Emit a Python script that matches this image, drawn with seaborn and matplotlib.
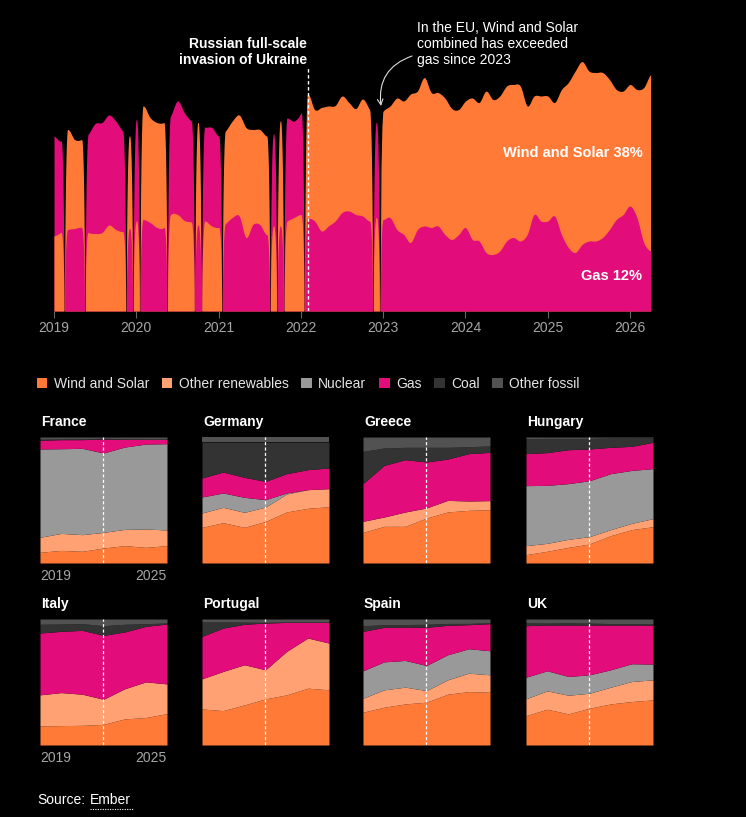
import numpy as np
import matplotlib.pyplot as plt
import seaborn as sns
from matplotlib.patches import Patch
from matplotlib.lines import Line2D

# ---------- data ----------
# EU monthly share of power generation (%), Jan 2019 - Apr 2026
wind_solar = [
    15.0, 15.7, 20.0, 17.8, 17.6, 15.7, 15.5, 15.7, 17.2, 16.3, 15.9, 18.5,  # 2019
    18.0, 22.7, 21.0, 21.0, 21.0, 19.3, 19.3, 18.1, 17.8, 20.5, 18.0, 17.0,  # 2020
    16.7, 18.5, 19.3, 20.2, 22.0, 19.0, 19.0, 19.7, 17.0, 21.0, 18.0, 18.7,  # 2021
    19.3, 24.7, 22.3, 24.7, 24.0, 23.1, 23.3, 21.7, 21.2, 23.4, 22.3, 18.7,  # 2022
    21.7, 22.3, 26.3, 26.7, 29.7, 27.7, 29.7, 27.0, 26.7, 27.3, 26.2, 25.0,  # 2023
    25.3, 28.3, 27.7, 32.3, 31.0, 31.0, 31.0, 30.6, 31.0, 25.7, 23.7, 25.0,  # 2024
    25.0, 22.7, 29.0, 33.0, 36.3, 36.6, 34.0, 33.7, 33.0, 30.0, 26.0, 24.7,  # 2025
    24.3, 25.6, 31.0, 35.3,                                                  # 2026
]
gas = [
    20.0, 18.3, 16.3, 16.5, 16.7, 19.7, 22.0, 22.0, 22.0, 21.7, 20.1, 16.5,
    20.3, 18.3, 17.7, 16.7, 16.7, 19.7, 22.7, 21.6, 20.2, 17.2, 18.8, 19.7,
    18.3, 17.5, 18.7, 19.0, 14.7, 17.3, 17.3, 15.3, 18.4, 17.0, 20.6, 19.3,
    20.3, 18.7, 18.0, 16.0, 17.0, 18.0, 19.7, 20.0, 19.3, 19.0, 18.0, 19.0,
    18.3, 18.7, 16.3, 15.3, 13.7, 16.3, 17.0, 16.7, 17.0, 15.3, 14.3, 15.3,
    16.7, 14.3, 14.0, 11.7, 11.3, 12.0, 14.0, 14.7, 14.0, 15.3, 19.3, 18.0,
    18.0, 19.0, 15.3, 12.7, 11.7, 13.3, 14.0, 14.0, 14.7, 16.3, 18.3, 19.3,
    21.0, 18.7, 13.7, 12.0,
]
year_ticks = [2019, 2020, 2021, 2022, 2023, 2024, 2025, 2026]

# country panels: yearly shares 2019-2025, one row per source
SOURCES = ["Wind and Solar", "Other renewables", "Nuclear", "Gas", "Coal", "Other fossil"]
COLORS = ["#ff7a36", "#ffa172", "#999999", "#e20c7b", "#333333", "#525252"]
panel_years = [2019, 2020, 2021, 2022, 2023, 2024, 2025]

france = [
    [8.5, 10.0, 9.3, 11.9, 13.8, 12.4, 13.8],
    [11.9, 13.5, 13.2, 12.4, 12.9, 14.6, 12.4],
    [70.1, 67.2, 68.5, 63.0, 65.3, 67.4, 68.5],
    [6.9, 7.2, 6.9, 11.1, 6.1, 3.7, 3.4],
    [0.8, 0.5, 0.6, 0.6, 0.4, 0.3, 0.3],
    [1.8, 1.6, 1.5, 1.0, 1.5, 1.6, 1.6],
]
germany = [
    [28.3, 32.0, 28.3, 33.0, 40.5, 43.4, 44.7],
    [11.4, 12.2, 11.9, 11.4, 14.3, 14.8, 14.3],
    [12.7, 11.4, 11.9, 5.9, 0.8, 0.0, 0.0],
    [15.1, 16.6, 15.9, 14.5, 15.3, 15.9, 16.4],
    [28.5, 23.8, 28.0, 31.2, 25.1, 21.9, 20.6],
    [4.0, 4.0, 4.0, 4.0, 4.0, 4.0, 4.0],
]
greece = [
    [24.3, 29.1, 29.1, 35.7, 40.5, 41.8, 42.3],
    [8.8, 7.4, 11.4, 8.0, 9.2, 7.4, 7.2],
    [0, 0, 0, 0, 0, 0, 0],
    [29.9, 41.0, 41.5, 36.5, 32.8, 37.6, 38.3],
    [25.6, 13.8, 9.8, 11.6, 9.3, 5.5, 5.1],
    [11.4, 8.7, 8.2, 8.2, 8.2, 7.7, 7.1],
]
hungary = [
    [6.6, 9.3, 12.4, 15.1, 21.7, 26.5, 28.8],
    [7.2, 6.3, 6.4, 5.8, 4.8, 5.0, 6.4],
    [47.6, 46.0, 44.2, 44.4, 44.4, 42.0, 39.7],
    [25.4, 26.0, 26.9, 25.2, 20.9, 19.1, 20.9],
    [11.9, 11.3, 9.0, 8.4, 7.4, 6.8, 3.6],
    [1.3, 1.1, 1.1, 1.1, 0.8, 0.6, 0.6],
]
italy = [
    [15.1, 15.4, 15.6, 16.4, 20.7, 21.8, 24.9],
    [24.7, 26.2, 24.7, 19.9, 23.9, 28.3, 23.6],
    [0, 0, 0, 0, 0, 0, 0],
    [49.1, 48.6, 50.7, 50.7, 45.1, 44.1, 47.5],
    [6.9, 5.8, 5.3, 7.7, 6.1, 2.1, 0.8],
    [4.2, 4.0, 3.7, 5.3, 4.2, 3.7, 3.2],
]
portugal = [
    [28.6, 27.3, 31.8, 36.6, 39.8, 45.1, 43.8],
    [23.9, 31.1, 31.9, 23.1, 34.5, 39.8, 37.1],
    [0, 0, 0, 0, 0, 0, 0],
    [33.7, 34.4, 32.1, 37.1, 23.0, 12.4, 16.4],
    [11.4, 4.8, 1.7, 0.5, 0.3, 0.3, 0.3],
    [2.4, 2.4, 2.5, 2.7, 2.4, 2.4, 2.4],
]
spain = [
    [26.0, 30.0, 32.6, 34.0, 40.3, 42.4, 41.9],
    [11.1, 13.8, 13.3, 9.2, 11.4, 14.6, 13.8],
    [21.8, 22.2, 21.2, 19.9, 19.9, 19.4, 19.1],
    [31.3, 27.4, 26.5, 30.3, 23.4, 19.1, 21.5],
    [4.5, 2.0, 2.0, 2.4, 1.5, 1.0, 0.7],
    [5.3, 4.6, 4.4, 4.2, 3.5, 3.5, 3.0],
]
uk = [
    [23.3, 28.4, 24.7, 29.2, 32.6, 34.5, 35.8],
    [13.3, 14.6, 14.8, 11.9, 13.3, 15.9, 15.9],
    [17.2, 15.9, 14.9, 14.6, 13.8, 14.1, 12.5],
    [40.9, 36.3, 40.8, 39.5, 35.5, 30.7, 31.0],
    [2.2, 1.5, 1.8, 1.5, 1.2, 1.0, 0.8],
    [3.1, 3.3, 3.0, 3.3, 3.6, 3.8, 4.0],
]
countries = ["France", "Germany", "Greece", "Hungary", "Italy", "Portugal", "Spain", "UK"]
panels = [france, germany, greece, hungary, italy, portugal, spain, uk]

# ---------- style ----------
W, H = 746, 817
ORANGE, PINK = COLORS[0], COLORS[3]
sns.set_style("dark", {"axes.facecolor": "black", "figure.facecolor": "black"})
plt.rcParams["font.family"] = ["Liberation Sans", "DejaVu Sans"]
TICK_GRAY = "#a6a6a6"


def fx(px):
    return px / W


def fy(py):
    return 1 - py / H


fig = plt.figure(figsize=(W / 100, H / 100), dpi=100)

# ---------- top chart: wind & solar vs gas (larger series stacked on top) ----------
PX_PER_YEAR = 82.29
ax = fig.add_axes([fx(54), fy(311), 606 / W, 291 / H])
ax.set_facecolor("black")
ax.set_xlim(2019, 2019 + 606 / PX_PER_YEAR)
ax.set_ylim(0, 291 / 5)

ws = np.array(wind_solar)
gs = np.array(gas)
t = 2019 + np.arange(len(ws)) / 12
lower = np.minimum(ws, gs)
total = ws + gs
ws_on_top = ws >= gs

STEP = 1 / 12
GAP = 0.05 * STEP
TAPER = 0.42 * STEP


def smooth(xs, y):
    # cubic hermite (catmull-rom) through the monthly points, for drawing only
    i = np.clip(((xs - t[0]) / STEP).astype(int), 0, len(t) - 2)
    u = (xs - t[i]) / STEP
    yp = np.concatenate([[y[0]], y, [y[-1]]])
    m = (yp[2:] - yp[:-2]) / 2
    h00 = 2 * u**3 - 3 * u**2 + 1
    h10 = u**3 - 2 * u**2 + u
    h01 = -2 * u**3 + 3 * u**2
    h11 = u**3 - u**2
    return h00 * y[i] + h10 * m[i] + h01 * y[i + 1] + h11 * m[i + 1]


def runs(mask):
    out, start = [], None
    for i, m in enumerate(mask):
        if m and start is None:
            start = i
        if not m and start is not None:
            out.append((start, i - 1))
            start = None
    if start is not None:
        out.append((start, len(mask) - 1))
    return out


def draw_runs(mask, height, color):
    n = len(mask)
    for a, b in runs(mask):
        x0 = t[a] - STEP / 2 + GAP if a > 0 else t[0]
        x1 = t[b] + STEP / 2 - GAP if b < n - 1 else t[-1]
        xs = np.linspace(x0, x1, 300)
        h = smooth(xs, height)
        env = np.ones_like(xs)
        if a > 0:
            d = np.clip((xs - x0) / TAPER, 0, 1)
            env = np.minimum(env, np.sqrt(1 - (1 - d) ** 2))
        if b < n - 1:
            d = np.clip((x1 - xs) / TAPER, 0, 1)
            env = np.minimum(env, np.sqrt(1 - (1 - d) ** 2))
        ax.fill_between(xs, 0, h * env, color=color, lw=0)


# upper layer first (drawn down to the baseline), then the lower layer over it
draw_runs(ws_on_top, total, ORANGE)
draw_runs(~ws_on_top, total, PINK)
draw_runs(~ws_on_top, lower, ORANGE)
draw_runs(ws_on_top, lower, PINK)

invasion = 2022 + 1 / 12
ax.plot([invasion, invasion], [0, 48.6], color="white", lw=1, ls=(0, (2.5, 1.8)))

ax.set_xticks(year_ticks)
ax.set_xticklabels([str(y) for y in year_ticks])
ax.set_yticks([])
ax.tick_params(axis="x", colors="#666666", labelcolor=TICK_GRAY, labelsize=10,
               length=5, width=0.8, pad=2, direction="out", bottom=True)
sns.despine(ax=ax, left=True, bottom=True)
ax.grid(False)

ax.text(2026.15, 31.6, "Wind and Solar 38%", color="white", fontsize=10.5,
        fontweight="bold", ha="right", va="center")
ax.text(2026.15, 7.0, "Gas 12%", color="white", fontsize=10.5,
        fontweight="bold", ha="right", va="center")

fig.text(fx(307), fy(52), "Russian full-scale\ninvasion of Ukraine", color="white",
         fontsize=10, fontweight="bold", ha="right", va="center", linespacing=1.25)
fig.text(fx(417), fy(44), "In the EU, Wind and Solar\ncombined has exceeded\ngas since 2023",
         color="white", fontsize=10, ha="left", va="center", linespacing=1.2)
ax.annotate("", xy=(fx(381), fy(106)), xycoords="figure fraction",
            xytext=(fx(412), fy(56)), textcoords="figure fraction",
            arrowprops=dict(arrowstyle="->", color="#dddddd", lw=0.8,
                            connectionstyle="arc3,rad=0.4", shrinkA=0, shrinkB=0))

# ---------- legend ----------
handles = [Patch(facecolor=c, edgecolor="none", label=s) for s, c in zip(SOURCES, COLORS)]
fig.legend(handles=handles, loc="center left", bbox_to_anchor=(fx(37), fy(384)),
           ncol=6, frameon=False, fontsize=10, labelcolor="#e6e6e6",
           handlelength=0.75, handleheight=0.75, handletextpad=0.45,
           columnspacing=0.93, borderaxespad=0, borderpad=0)

# ---------- country panels ----------
col_left = [40, 202, 363, 526]
row_top = [437, 619]
PW, PH = 127, 126
for i, (name, rows) in enumerate(zip(countries, panels)):
    r, c = divmod(i, 4)
    left, top = col_left[c], row_top[r]
    pax = fig.add_axes([fx(left), fy(top + PH), PW / W, PH / H])
    pax.set_facecolor("black")
    pax.stackplot(panel_years, *rows, colors=COLORS, lw=0)
    pax.set_xlim(2019, 2025)
    pax.set_ylim(0, 100)
    pax.axvline(2022, color="white", lw=0.9, ls=(0, (2.5, 1.8)))
    pax.set_axis_off()
    fig.text(fx(left + 1), fy(top - 15), name, color="white", fontsize=10,
             fontweight="bold", ha="left", va="center")
    if c == 0:
        fig.text(fx(left), fy(top + PH + 13), "2019", color=TICK_GRAY, fontsize=10,
                 ha="left", va="center")
        fig.text(fx(left + PW), fy(top + PH + 13), "2025", color=TICK_GRAY, fontsize=10,
                 ha="right", va="center")

# ---------- source ----------
fig.text(fx(37), fy(800), "Source:", color="white", fontsize=10, ha="left", va="center")
fig.text(fx(90), fy(800), "Ember", color="white", fontsize=10, ha="left", va="center")
fig.add_artist(Line2D([fx(90), fx(133)], [fy(809), fy(809)], color="white",
                      lw=0.8, ls=(0, (1, 1.2))))

fig.savefig("out.png", dpi=100, facecolor="black")
